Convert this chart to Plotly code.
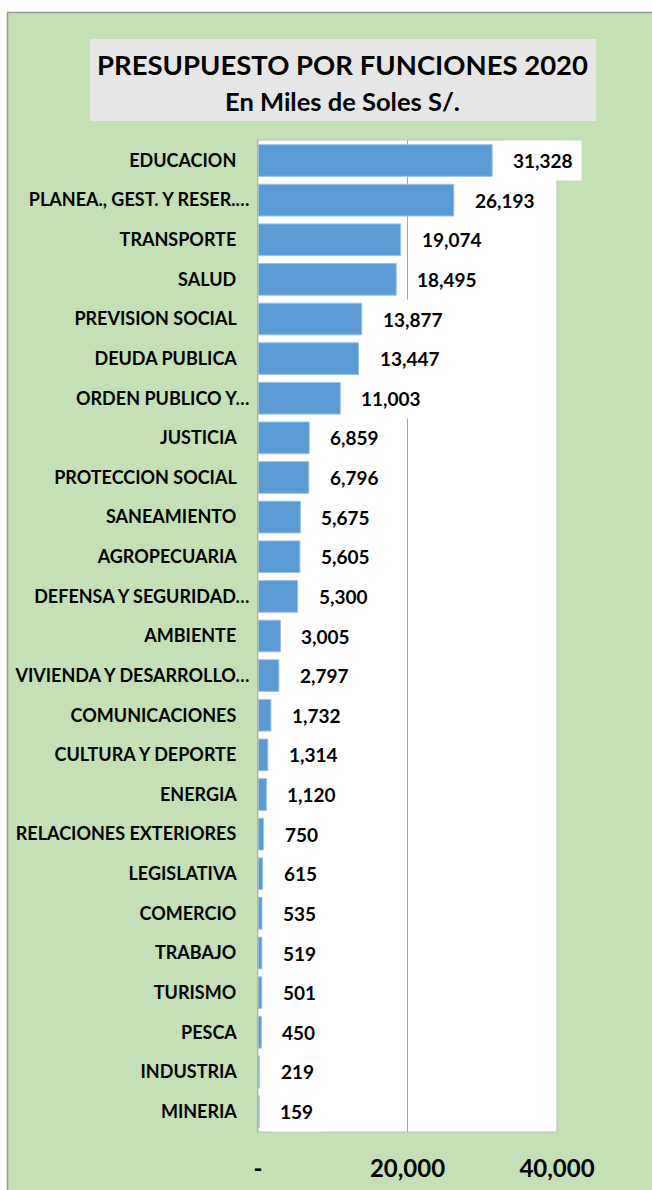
import plotly.graph_objects as go

funciones = ["EDUCACION", "PLANEA., GEST. Y RESER.…", "TRANSPORTE", "SALUD",
             "PREVISION SOCIAL", "DEUDA PUBLICA", "ORDEN PUBLICO Y…", "JUSTICIA",
             "PROTECCION SOCIAL", "SANEAMIENTO", "AGROPECUARIA", "DEFENSA Y SEGURIDAD…",
             "AMBIENTE", "VIVIENDA Y DESARROLLO…", "COMUNICACIONES", "CULTURA Y DEPORTE",
             "ENERGIA", "RELACIONES EXTERIORES", "LEGISLATIVA", "COMERCIO", "TRABAJO",
             "TURISMO", "PESCA", "INDUSTRIA", "MINERIA"]
presupuesto = [31328, 26193, 19074, 18495, 13877, 13447, 11003, 6859, 6796, 5675,
               5605, 5300, 3005, 2797, 1732, 1314, 1120, 750, 615, 535, 519, 501,
               450, 219, 159]
tick_vals = [0, 20000, 40000]
tick_text = ["-", "20,000", "40,000"]

W, H = 652, 1190
L, R, T, B = 258, 95, 140, 58
FONT = "Lato, 'Open Sans', sans-serif"
GREEN = "#C5E0B4"


# pixel -> paper coords
def px(x):
    return (x - L) / (W - L - R)


def py(y):
    return 1 - (y - T) / (H - T - B)


# Excel lets truncated labels ("…") run closer to the axis than the others
y_ticktext = [f if f.endswith("…") else f + "\u00a0" * 3 for f in funciones]

fig = go.Figure()
fig.add_trace(go.Bar(
    x=presupuesto, y=funciones, orientation="h",
    marker=dict(color="#5B9BD5", line=dict(color="#9DC3E6", width=1)),
    hoverinfo="x+y",
))

# data labels
annotations = []
for f, v in zip(funciones, presupuesto):
    annotations.append(dict(
        x=v, y=f, xref="x", yref="y", text=f"{v:,}", showarrow=False,
        xanchor="left", xshift=12, bgcolor="white", borderpad=8,
        font=dict(family=FONT, size=19, color="black", weight="bold"),
    ))

annotations.append(dict(
    x=px(342.5), y=py(65), xref="paper", yref="paper", showarrow=False,
    xanchor="center", yanchor="middle",
    text="PRESUPUESTO POR FUNCIONES 2020",
    font=dict(family=FONT, size=27.5, color="black", weight="bold"),
))
annotations.append(dict(
    x=px(342.5), y=py(101), xref="paper", yref="paper", showarrow=False,
    xanchor="center", yanchor="middle",
    text="En Miles de Soles S/.",
    font=dict(family=FONT, size=25.5, color="black", weight="bold"),
))

shapes = [
    # white page strips + border of the green chart area
    dict(type="rect", xref="paper", yref="paper", x0=px(0), x1=px(W), y0=py(0), y1=py(12),
         fillcolor="white", line_width=0, layer="below"),
    dict(type="rect", xref="paper", yref="paper", x0=px(0), x1=px(7), y0=py(0), y1=py(H),
         fillcolor="white", line_width=0, layer="below"),
    dict(type="line", xref="paper", yref="paper", x0=px(7), x1=px(W), y0=py(12.5), y1=py(12.5),
         line=dict(color="#9A9A9A", width=1.5)),
    dict(type="line", xref="paper", yref="paper", x0=px(7.5), x1=px(7.5), y0=py(12), y1=py(H),
         line=dict(color="#9A9A9A", width=1.5)),
    # title box
    dict(type="rect", xref="paper", yref="paper", x0=px(90), x1=px(596), y0=py(39), y1=py(121),
         fillcolor="#E7E6E6", line_width=0, layer="below"),
    # plot area border
    dict(type="rect", xref="paper", yref="paper", x0=0, x1=1, y0=0, y1=1,
         line=dict(color="#BFBFBF", width=1)),
]

fig.update_layout(
    width=W, height=H,
    margin=dict(l=L, r=R, t=T, b=B, autoexpand=False),
    paper_bgcolor=GREEN, plot_bgcolor="white",
    showlegend=False, bargap=0.2,
    annotations=annotations, shapes=shapes,
    font=dict(family=FONT, color="black"),
)
fig.update_xaxes(
    range=[0, 40000], tickvals=tick_vals, ticktext=tick_text,
    showgrid=True, gridcolor="#A6A6A6", gridwidth=1, zeroline=False,
    ticks="", ticklabelstandoff=20, automargin=False,
    tickfont=dict(family=FONT, size=24, color="black", weight="bold"),
    showline=False, fixedrange=True,
)
fig.update_yaxes(
    autorange="reversed", showgrid=False, zeroline=False,
    tickvals=funciones, ticktext=y_ticktext,
    ticks="", ticklabelstandoff=4, automargin=False,
    tickfont=dict(family=FONT, size=18, color="black", weight="bold"),
    showline=True, linecolor="#A6A6A6", linewidth=1, fixedrange=True,
)

fig.write_html("out.html", config={"displayModeBar": False},
               post_script="document.body.style.margin='0';document.body.style.overflow='hidden';")
